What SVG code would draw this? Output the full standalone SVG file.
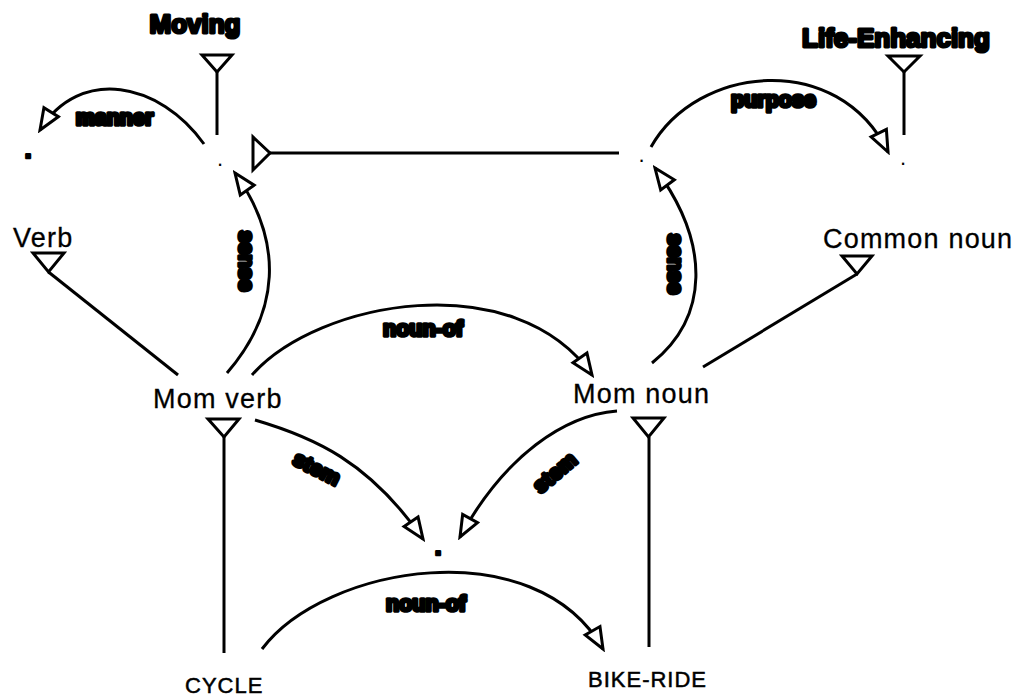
<svg xmlns="http://www.w3.org/2000/svg" width="1021" height="698" viewBox="0 0 1021 698">
<style>
text{font-family:"Liberation Sans",Arial,sans-serif;fill:#000}
.n{font-size:27px;letter-spacing:1.2px;stroke:#000;stroke-width:0.3}
.s{font-size:22px;letter-spacing:1px;stroke:#000;stroke-width:0.5}
.b{font-size:26px;font-weight:bold;stroke:#000;stroke-width:3;stroke-linejoin:round}
.l{font-size:21.5px;font-weight:bold;stroke:#000;stroke-width:3.6;stroke-linejoin:round;text-anchor:middle}
.d{font-size:22px}
.dl{font-size:26px;font-weight:bold;stroke:#000;stroke-width:2.5;stroke-linejoin:round}
.c{fill:none;stroke:#000;stroke-width:3;stroke-linecap:butt}
.t{fill:#fff;stroke:#000;stroke-width:3;stroke-linejoin:miter}
.a{fill:none;stroke:#000;stroke-width:3;marker-end:url(#arr)}
</style>
<defs>
<marker id="arr" markerUnits="userSpaceOnUse" viewBox="-2 -11 26 22" refX="21" refY="0" markerWidth="26" markerHeight="22" orient="auto">
<path d="M0,-8.5 L21,0 L0,8.5 Z" fill="#fff" stroke="#000" stroke-width="3" stroke-linejoin="miter"/>
</marker>
</defs>
<rect width="1021" height="698" fill="#fff"/>
<g id="connectors">
<line class="c" x1="217" y1="72" x2="217" y2="135"/>
<line class="c" x1="904" y1="72" x2="904" y2="135"/>
<line class="c" x1="48.5" y1="272" x2="178" y2="375"/>
<line class="c" x1="857" y1="274" x2="703" y2="367"/>
<line class="c" x1="224" y1="437" x2="224" y2="653"/>
<line class="c" x1="649" y1="437" x2="649" y2="647"/>
<line class="c" x1="270" y1="153" x2="619" y2="153"/>
<polygon class="t" points="202,55 232,55 217,72"/>
<polygon class="t" points="888,56 920,56 904,72"/>
<polygon class="t" points="33,253 64,253 48.5,272"/>
<polygon class="t" points="842,256 872,256 857,274"/>
<polygon class="t" points="208,419 239,419 224,437"/>
<polygon class="t" points="633,418 664,418 648.5,437"/>
<polygon class="t" points="253,137 253,170 270,153"/>
<path class="a" d="M204,144 C160,82 80,66 40,130"/>
<path class="a" d="M651,147 C697,65 838,50 888,152"/>
<path class="a" d="M227,373 C279,313 285,243 235,173"/>
<path class="a" d="M652,363 C708,318 712,245 655,168"/>
<path class="a" d="M252,375 C318,300 515,265 592,375"/>
<path class="a" d="M262,649 C325,565 535,530 603,649"/>
<path class="a" d="M255,420 C313,437 369,461 423,539"/>
<path class="a" d="M617,411 C565,415 505,455 460,537"/>
<text class="l" x="114.5" y="124.5">manner</text>
<text class="l" x="773.5" y="107">purpose</text>
<text class="l" x="423" y="336">noun-of</text>
<text class="l" x="426" y="611">noun-of</text>
<text class="l" transform="translate(244.5,261) rotate(90)" y="5.5">sense</text>
<text class="l" transform="translate(673,264) rotate(90)" y="5.5">sense</text>
<text class="l" transform="translate(316,470) rotate(27)" y="5.5">stem</text>
<text class="l" transform="translate(556,474) rotate(-40)" y="5.5">stem</text>
</g>
<g id="node-moving"><text class="b" x="195" y="32.5" text-anchor="middle">Moving</text></g>
<g id="node-life-enhancing"><text class="b" x="896" y="47" text-anchor="middle">Life-Enhancing</text></g>
<g id="node-manner-dot"><text class="dl" x="24.4" y="158">.</text></g>
<g id="node-moving-dot"><text class="d" x="217" y="166">.</text></g>
<g id="node-noun-sense-dot"><text class="d" x="638.4" y="161.5">.</text></g>
<g id="node-purpose-dot"><text class="d" x="900" y="165">.</text></g>
<g id="node-stem-dot"><text class="dl" x="434.4" y="555">.</text></g>
<g id="node-verb"><text class="n" x="13" y="247">Verb</text></g>
<g id="node-common-noun"><text class="n" x="823" y="248">Common noun</text></g>
<g id="node-mom-verb"><text class="n" x="153" y="408">Mom verb</text></g>
<g id="node-mom-noun"><text class="n" x="573" y="403">Mom noun</text></g>
<g id="node-cycle"><text class="s" x="185" y="693">CYCLE</text></g>
<g id="node-bike-ride"><text class="s" x="588" y="687">BIKE-RIDE</text></g>
</svg>
